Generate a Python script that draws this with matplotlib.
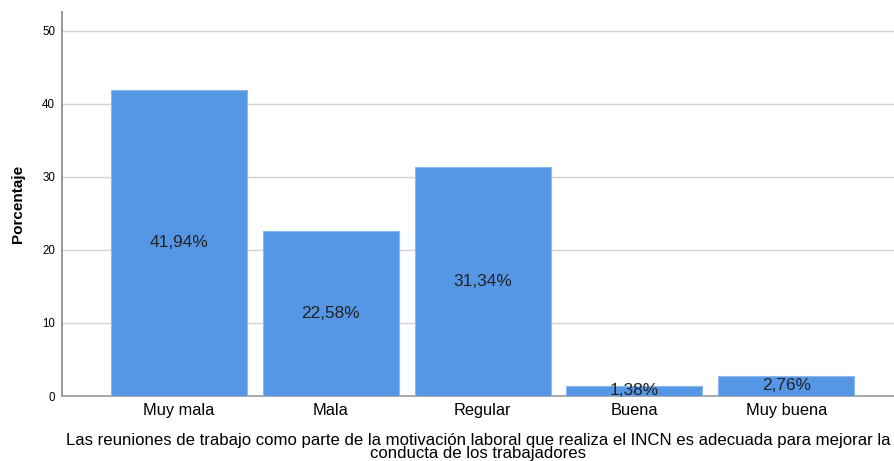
import matplotlib
matplotlib.use("Agg")
import matplotlib.pyplot as plt

categories = ["Muy mala", "Mala", "Regular", "Buena", "Muy buena"]
percentages = [41.94, 22.58, 31.34, 1.38, 2.76]
yticks = [0, 10, 20, 30, 40, 50]

plt.rcParams["font.family"] = ["Liberation Sans", "DejaVu Sans"]

fig = plt.figure(figsize=(8.94, 4.61), dpi=100)
ax = fig.add_axes([62 / 894, 65 / 461, 1 - 62 / 894, 384 / 461])

x = list(range(len(categories)))
bars = ax.bar(x, percentages, width=0.896, color="#5596E5",
              edgecolor="#8db8ee", linewidth=0.8, zorder=3)

for xi, v in zip(x, percentages):
    label = f"{v:.2f}".replace(".", ",") + "%"
    ax.text(xi, v / 2, label, ha="center", va="center",
            fontsize=12.4, color="#222222", zorder=4)

ax.set_xlim(-0.771, 4.71)
ax.set_ylim(0, 52.6)
ax.set_yticks(yticks)
ax.set_yticklabels([str(t) for t in yticks], fontsize=8.3)
ax.set_xticks(x)
ax.set_xticklabels(categories, fontsize=11.8)
ax.tick_params(axis="y", length=0, pad=5)
ax.tick_params(axis="x", length=0, pad=5)

ax.grid(axis="y", color="#d4d4d4", linewidth=1, zorder=0)
for side in ["top", "right"]:
    ax.spines[side].set_visible(False)
ax.spines["left"].set_color("#888888")
ax.spines["bottom"].set_color("#999999")
ax.spines["left"].set_linewidth(1.2)
ax.spines["bottom"].set_linewidth(1.2)

ax.set_ylabel("Porcentaje", fontsize=11, fontweight="bold", labelpad=12)
ax.set_xlabel("Las reuniones de trabajo como parte de la motivación laboral que realiza el INCN es adecuada para mejorar la\n"
              "conducta de los trabajadores", fontsize=12.1, labelpad=11, linespacing=0.85)

fig.savefig("out.png", dpi=100)
